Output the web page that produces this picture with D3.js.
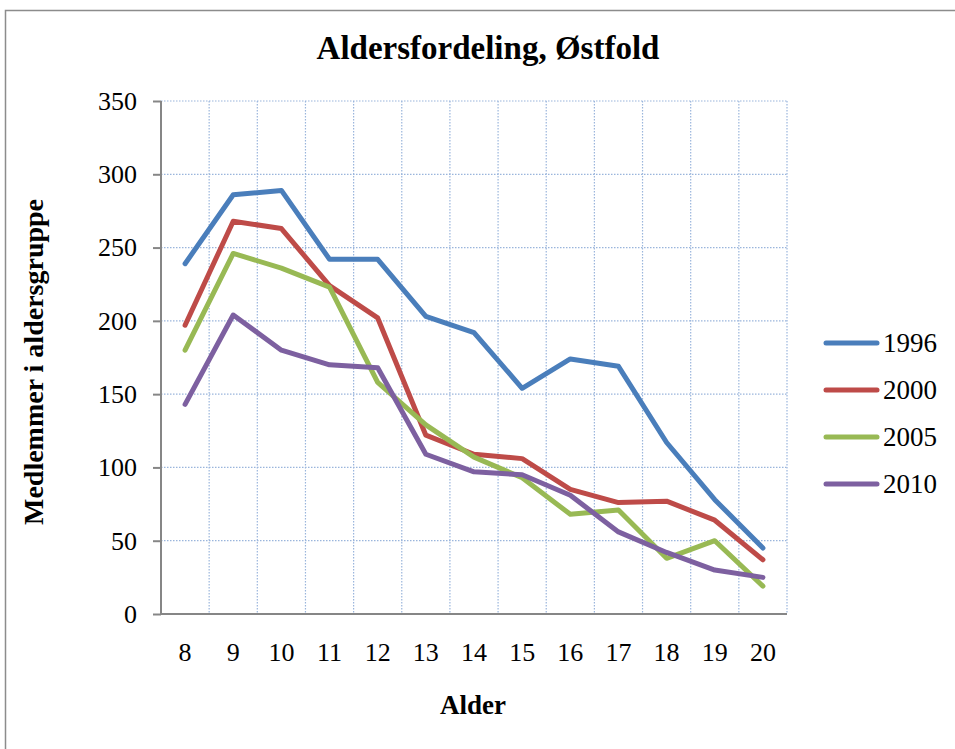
<!DOCTYPE html>
<html><head><meta charset="utf-8">
<script src="https://cdn.jsdelivr.net/npm/d3@7"></script>
<style>body{margin:0;background:#fff}svg{display:block}text{font-family:"Liberation Serif","DejaVu Serif",serif}</style>
</head><body><svg id="c" width="955" height="749"></svg>
<script>
const ages = ["8","9","10","11","12","13","14","15","16","17","18","19","20"];
const seriesNames = ["1996","2000","2005","2010"];
const v1996 = [239,286,289,242,242,203,192,154,174,169,117,78,45];
const v2000 = [197,268,263,224,202,122,109,106,85,76,77,64,37];
const v2005 = [180,246,236,223,158,129,107,93,68,71,38,50,19];
const v2010 = [143,204,180,170,168,109,97,95,81,56,42,30,25];
const yTicks = [0,50,100,150,200,250,300,350];
const colors = ["#4a7ebb","#be4b48","#98b954","#7d60a0"];
const series = [v1996,v2000,v2005,v2010];

const svg = d3.select("#c");
svg.append("rect").attr("x",5.5).attr("y",10.5).attr("width",955).attr("height",745)
  .attr("fill","none").attr("stroke","#8c8c8c").attr("stroke-width",1.5);

const L=161,R=787,T=101,B=614;
const x = d3.scaleBand().domain(ages).range([L,R]);
const y = d3.scaleLinear().domain([0,350]).range([B,T]);

// grid
const g = svg.append("g");
g.selectAll(".hg").data(yTicks.filter(d=>d>0)).join("line")
  .attr("x1",L).attr("x2",R).attr("y1",d=>y(d)).attr("y2",d=>y(d))
  .attr("stroke","#9ab5dc").attr("stroke-width",1.2).attr("stroke-dasharray","1.5,1.5");
g.selectAll(".vg").data(ages.slice(1).concat(["end"])).join("line")
  .attr("x1",d=>d==="end"?R:x(d)).attr("x2",d=>d==="end"?R:x(d)).attr("y1",T).attr("y2",B)
  .attr("stroke","#9ab5dc").attr("stroke-width",1.2).attr("stroke-dasharray","1.5,1.5");

// axes
const ya = svg.append("g").attr("transform",`translate(${L},0)`)
  .call(d3.axisLeft(y).tickValues(yTicks).tickSize(8).tickPadding(16));
ya.select(".domain").attr("stroke","#868686").attr("stroke-width",2).attr("d",`M0,${T}V${B}`);
ya.selectAll(".tick line").attr("stroke","#868686").attr("stroke-width",2);
ya.selectAll(".tick text").attr("font-size",26).attr("fill","#000").attr("font-family","Liberation Serif");

const xa = svg.append("g").attr("transform",`translate(0,${B})`)
  .call(d3.axisBottom(x).tickSize(0).tickPadding(29));
xa.select(".domain").attr("stroke","#868686").attr("stroke-width",2).attr("d",`M${L},0H${R}`);
xa.selectAll(".tick text").attr("font-size",26).attr("fill","#000").attr("font-family","Liberation Serif");

// lines
const line = d3.line().x((d,i)=>x(ages[i])+x.bandwidth()/2).y(d=>y(d));
svg.selectAll(".ser").data(series).join("path")
  .attr("d",d=>line(d)).attr("fill","none").attr("stroke",(d,i)=>colors[i])
  .attr("stroke-width",5).attr("stroke-linecap","round").attr("stroke-linejoin","round");

// titles
svg.append("text").attr("x",488).attr("y",59).attr("text-anchor","middle")
  .attr("font-size",33).attr("font-weight","bold").text("Aldersfordeling, Østfold");
svg.append("text").attr("x",473).attr("y",714).attr("text-anchor","middle")
  .attr("font-size",27).attr("font-weight","bold").text("Alder");
svg.append("text").attr("transform","translate(43,362) rotate(-90)").attr("text-anchor","middle")
  .attr("font-size",28).attr("font-weight","bold").text("Medlemmer i aldersgruppe");

// legend
const lg = svg.append("g");
seriesNames.forEach((n,i)=>{
  const yy = 343 + i*47;
  lg.append("line").attr("x1",826).attr("x2",877).attr("y1",yy).attr("y2",yy)
    .attr("stroke",colors[i]).attr("stroke-width",5).attr("stroke-linecap","round");
  lg.append("text").attr("x",883).attr("y",yy+9).attr("font-size",27).text(n);
});
</script></body></html>
